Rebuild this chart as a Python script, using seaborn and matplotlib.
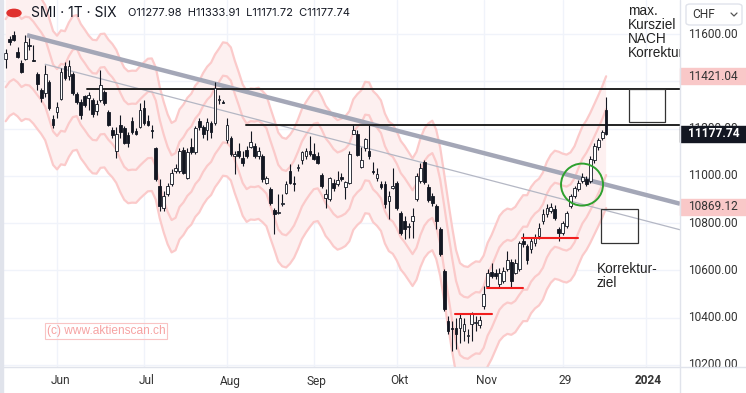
import matplotlib
matplotlib.use('Agg')

import numpy as np
import pandas as pd
import matplotlib.pyplot as plt
import seaborn as sns
from matplotlib.patches import Rectangle, Circle, Ellipse, FancyBboxPatch

# ------------------------------------------------------------------
# daily candles SMI, 11 May 2023 .. 14 Dec 2023
# ------------------------------------------------------------------
opens = [11493, 11578, 11595, 11523, 11476, 11493, 11553, 11489, 11430, 11362,
         11349, 11396, 11239, 11268, 11324, 11464, 11421, 11430, 11345, 11311,
         11336, 11328, 11319, 11273, 11319, 11353, 11268, 11192, 11103, 11217,
         11201, 11171, 11230, 11188, 11205, 11285, 11234, 11192, 11116, 10958,
         10865, 10925, 10967, 11022, 11022, 11111, 10992, 11120, 11099, 11234,
         11205, 11192, 11222, 11222, 11319, 11311, 11150, 11158, 11086, 11107,
         11077, 11111, 11124, 11128, 11086, 11086, 10971, 10946, 10857, 10844,
         10882, 10929, 11022, 10967, 11035, 11065, 11082, 11107, 11094, 11086,
         11005, 10908, 10903, 10971, 10967, 10997, 10954, 10971, 11179, 11179,
         11039, 11116, 11103, 11018, 10992, 10967, 10967, 10895, 10950, 10971,
         10844, 10810, 10784, 10810, 10903, 10980, 11060, 10954, 10916, 10874,
         10776, 10598, 10385, 10356, 10356, 10356, 10343, 10322, 10373, 10377,
         10368, 10449, 10534, 10593, 10589, 10542, 10555, 10606, 10636, 10589,
         10606, 10725, 10704, 10691, 10716, 10746, 10810, 10840, 10852, 10861,
         10776, 10759, 10789, 10874, 10916, 10946, 10980, 10988, 10980, 11065,
         11120, 11158, 11277.98]
highs = [11536, 11591, 11612, 11544, 11489, 11595, 11583, 11553, 11438, 11370,
         11468, 11404, 11256, 11311, 11455, 11481, 11489, 11438, 11353, 11324,
         11341, 11353, 11328, 11319, 11447, 11362, 11277, 11205, 11205, 11256,
         11209, 11184, 11247, 11201, 11307, 11319, 11256, 11213, 11124, 10988,
         10937, 10971, 11031, 11052, 11116, 11124, 11116, 11158, 11209, 11243,
         11213, 11243, 11234, 11396, 11341, 11319, 11243, 11167, 11107, 11137,
         11107, 11128, 11188, 11141, 11120, 11094, 11001, 10954, 10865, 10925,
         10925, 10980, 11052, 11001, 11052, 11107, 11116, 11167, 11137, 11099,
         11014, 10946, 10997, 10988, 11022, 11014, 10980, 11107, 11217, 11192,
         11120, 11162, 11217, 11060, 11035, 10980, 10980, 10937, 11035, 10980,
         10852, 10831, 10801, 10865, 11014, 11056, 11069, 10967, 10929, 10882,
         10784, 10606, 10407, 10385, 10398, 10415, 10398, 10351, 10423, 10407,
         10407, 10534, 10606, 10632, 10606, 10610, 10615, 10682, 10649, 10649,
         10725, 10759, 10712, 10742, 10755, 10801, 10861, 10882, 10886, 10878,
         10784, 10810, 10852, 10925, 10958, 10984, 11014, 11001, 11086, 11137,
         11158, 11196, 11333.91]
lows = [11455, 11553, 11570, 11498, 11434, 11489, 11532, 11485, 11362, 11311,
        11332, 11277, 11201, 11243, 11319, 11404, 11404, 11341, 11302, 11239,
        11290, 11277, 11251, 11256, 11311, 11298, 11209, 11162, 11077, 11158,
        11133, 11120, 11175, 11171, 11201, 11213, 11209, 11162, 10980, 10852,
        10852, 10916, 10958, 11014, 11014, 11009, 10988, 11094, 11094, 11196,
        11162, 11150, 11158, 11217, 11302, 11307, 11141, 11086, 11009, 11077,
        11043, 11077, 11116, 11077, 11073, 10975, 10967, 10878, 10755, 10840,
        10874, 10925, 10967, 10937, 11022, 11052, 11073, 11086, 11065, 11052,
        10950, 10865, 10895, 10937, 10958, 10980, 10903, 10967, 11175, 11082,
        11035, 11107, 11073, 11009, 10980, 10946, 10865, 10818, 10946, 10857,
        10750, 10733, 10738, 10738, 10895, 10971, 10967, 10891, 10874, 10776,
        10661, 10428, 10330, 10258, 10266, 10292, 10300, 10292, 10300, 10343,
        10356, 10436, 10525, 10568, 10564, 10530, 10547, 10598, 10525, 10585,
        10598, 10699, 10627, 10674, 10704, 10733, 10797, 10827, 10844, 10814,
        10725, 10750, 10780, 10865, 10908, 10937, 10971, 10958, 10971, 11056,
        11111, 11150, 11171.72]
closes = [11519, 11566, 11574, 11502, 11438, 11566, 11551, 11487, 11387, 11328,
          11430, 11285, 11217, 11290, 11438, 11413, 11464, 11349, 11311, 11256,
          11298, 11341, 11260, 11302, 11383, 11307, 11217, 11171, 11179, 11184,
          11141, 11141, 11184, 11175, 11277, 11222, 11217, 11190, 10988, 10874,
          10916, 10958, 11014, 11035, 11107, 11014, 11099, 11099, 11201, 11205,
          11179, 11226, 11184, 11370, 11324, 11309, 11213, 11094, 11094, 11086,
          11056, 11082, 11145, 11086, 11107, 10988, 10992, 10886, 10840, 10846,
          10884, 10967, 10971, 10965, 11037, 11099, 11107, 11094, 11073, 11056,
          10958, 10925, 10992, 10950, 10984, 10988, 10975, 11094, 11196, 11090,
          11065, 11154, 11082, 11016, 11009, 10954, 10882, 10916, 10958, 10865,
          10759, 10776, 10789, 10831, 11001, 11035, 10975, 10899, 10886, 10810,
          10670, 10436, 10343, 10351, 10330, 10398, 10373, 10326, 10415, 10381,
          10390, 10500, 10589, 10576, 10576, 10589, 10598, 10644, 10555, 10632,
          10716, 10712, 10644, 10725, 10738, 10780, 10840, 10865, 10869, 10823,
          10759, 10801, 10844, 10916, 10950, 10971, 10997, 10967, 11073, 11128,
          11150, 11184, 11177.74]

month_pos = [13, 35, 56, 78, 99, 121, 141, 162]
month_lbl = ['Jun', 'Jul', 'Aug', 'Sep', 'Okt', 'Nov', '29', '2024']
price_ticks = [10200, 10400, 10600, 10800, 11000, 11200, 11400, 11600]

# envelope settings (SMA length, percent bands)
env_len = 5
env_pct = [2.5, 1.25]

# drawn lines: (x0, y0, x1, y1) in bar index / CHF
trend_thick = (5.4, 11595, 170.7, 10882)
trend_thin = (10.0, 11472, 170.7, 10772)
resist_lines = [(20.6, 11366), (60.8, 11217)]
red_lines = [(113.7, 123.1, 10415), (121.9, 130.9, 10525), (130.7, 144.9, 10738)]
box_upper = (157.8, 11226, 166.9, 11366)
box_lower = (150.7, 10717, 160.1, 10861)
price_tags = [(11421.04, 'pink'), (10869.12, 'pink'), (11177.74, 'black')]

W, H = 746, 393
PPX = 4.23  # CHF per pixel
X0, X1 = -0.68, 170.7
Y1 = 11600 + 34 * PPX
Y0 = Y1 - 367 * PPX

sns.set_style('white')
plt.rcParams['font.family'] = ['Liberation Sans', 'DejaVu Sans']

fig = plt.figure(figsize=(W / 100, H / 100), dpi=100)
fig.patch.set_facecolor('white')


def fx(x):
    return x / W


def fy(y):
    return 1 - y / H


ax = fig.add_axes([fx(3), 26 / H, 677 / W, 367 / H])
ax.set_xlim(X0, X1)
ax.set_ylim(Y0, Y1)
for s in ax.spines.values():
    s.set_visible(False)
ax.set_xticks([])
ax.set_yticks([])

# grid
for p in month_pos:
    ax.axvline(p, color='#f0f3fa', lw=1, zorder=0)
for p in price_ticks:
    ax.axhline(p, color='#f0f3fa', lw=1, zorder=0)

df = pd.DataFrame({'o': opens, 'h': highs, 'l': lows, 'c': closes})
df['i'] = np.arange(len(df))

# envelope round a short moving average
mid = df['c'].rolling(env_len, min_periods=1).mean()
bands = pd.DataFrame({'i': df['i']})
for k, pct in enumerate(env_pct):
    bands[f'u{k}'] = mid * (1 + pct / 100)
    bands[f'l{k}'] = mid * (1 - pct / 100)
ax.fill_between(bands['i'], bands['l0'], bands['u0'], color='#fdf0f0', lw=0, zorder=1)
for col in ['u0', 'u1', 'l1', 'l0']:
    sns.lineplot(data=bands, x='i', y=col, ax=ax, color='#fbcaca', lw=1.6, zorder=1)
ax.set_xlabel('')
ax.set_ylabel('')

# trend lines
ax.plot([trend_thick[0], trend_thick[2]], [trend_thick[1], trend_thick[3]],
        color='#a4a7b7', lw=3.2, solid_capstyle='butt', zorder=2)
ax.plot([trend_thin[0], trend_thin[2]], [trend_thin[1], trend_thin[3]],
        color='#b4b7c4', lw=0.9, zorder=2)
for x0, lvl in resist_lines:
    ax.plot([x0, X1], [lvl, lvl], color='#222222', lw=1.4, zorder=2)
for x0, x1, lvl in red_lines:
    ax.plot([x0, x1], [lvl, lvl], color='#f21e1e', lw=1.5, zorder=5)

# candles
up = df['c'] >= df['o']
body = (df['c'] - df['o']).abs().clip(lower=4)
bot = df[['o', 'c']].min(axis=1)
ax.vlines(df['i'], df['l'], df['h'], color='#131722', lw=0.8, zorder=3)
ax.bar(df['i'][up], body[up], bottom=bot[up], width=0.68, color='white',
       edgecolor='#131722', lw=0.6, zorder=4)
ax.bar(df['i'][~up], body[~up], bottom=bot[~up], width=0.68, color='#131722',
       edgecolor='#131722', lw=0.6, zorder=4)

# circle and boxes
ax.add_patch(Ellipse((145.9, 10963), 42 / 3.95, 42 * PPX, fill=False,
                     edgecolor='#2ea02e', lw=1.4, zorder=6))
for bx in (box_upper, box_lower):
    ax.add_patch(Rectangle((bx[0], bx[1]), bx[2] - bx[0], bx[3] - bx[1],
                           fill=False, edgecolor='#333333', lw=0.9, zorder=6))

ax.text(157.6, 11728, 'max.\nKursziel\nNACH\nKorrektur', fontsize=9.8,
        color='#222222', va='top', ha='left', linespacing=1.02, clip_on=True, zorder=7)
ax.text(149.6, 10636, 'Korrektur-\nziel', fontsize=9.8, color='#222222',
        va='top', ha='left', linespacing=1.02, zorder=7)

# watermark
fig.text(fx(47), fy(331), '(c) www.aktienscan.ch', fontsize=8.6, color='#f6a3a3',
         va='center', ha='left',
         bbox=dict(boxstyle='square,pad=0.15', fc='none', ec='#f9c4c4', lw=0.8))

# header
fig.patches.append(Circle((fx(14), fy(13)), 7 / W, transform=fig.transFigure,
                          color='#e0322f', zorder=10))
fig.text(fx(31), fy(13), 'SMI · 1T · SIX', fontsize=10, color='#131722',
         va='center', ha='left', family=['Inter', 'DejaVu Sans'])
fig.text(fx(128), fy(13), 'O11277.98  H11333.91  L11171.72  C11177.74', fontsize=8,
         color='#131722', va='center', ha='left', family=['Inter', 'DejaVu Sans'])

# left strip and axis separators
fig.patches.append(Rectangle((0, 0), fx(3), 1, transform=fig.transFigure,
                             color='#e0e3eb', zorder=10))
fig.add_artist(plt.Line2D([fx(680), fx(680)], [0, 1], color='#e0e3eb', lw=1))
fig.add_artist(plt.Line2D([fx(3), 1], [26 / H, 26 / H], color='#e0e3eb', lw=1))

# price scale
ax2 = fig.add_axes([fx(680), 26 / H, 66 / W, 367 / H])
ax2.set_xlim(0, 1)
ax2.set_ylim(Y0, Y1)
ax2.axis('off')
for p in price_ticks:
    ax2.text(0.12, p, f'{p:.2f}', fontsize=8.6, color='#333333', va='center',
             ha='left', clip_on=True, family=['Roboto', 'DejaVu Sans'])
for val, kind in price_tags:
    fc = '#f9c8c8' if kind == 'pink' else '#131722'
    tc = '#333333' if kind == 'pink' else 'white'
    ax2.add_patch(Rectangle((0, val - 8 * PPX), 1, 16 * PPX, color=fc,
                            zorder=5, clip_on=False))
    ax2.text(0.12, val, f'{val:.2f}', fontsize=8.6, color=tc, va='center', ha='left',
             zorder=6, weight='bold' if kind == 'black' else 'normal',
             family=['Roboto', 'DejaVu Sans'])

# currency box
fig.patches.append(FancyBboxPatch((fx(686), fy(25)), 56 / W, 21 / H,
                                  boxstyle='round,pad=0,rounding_size=0.006',
                                  transform=fig.transFigure, fc='white',
                                  ec='#e0e3eb', lw=1, zorder=10))
fig.text(fx(692), fy(14.5), 'CHF', fontsize=8.6, color='#333333', va='center',
         ha='left', family=['Roboto', 'DejaVu Sans'], zorder=11)
fig.add_artist(plt.Line2D([fx(731), fx(734), fx(737)], [fy(13), fy(16), fy(13)],
                          color='#555555', lw=0.9, zorder=11))

# time scale
for p, lbl in zip(month_pos, month_lbl):
    xf = fx(5.7 + 3.95 * p + 3)
    fig.text(xf, fy(381), lbl, fontsize=8.6, color='#333333', va='center',
             ha='center', weight='bold' if lbl == '2024' else 'normal',
             family=['Roboto', 'DejaVu Sans'])

fig.savefig('out.png', dpi=100)
